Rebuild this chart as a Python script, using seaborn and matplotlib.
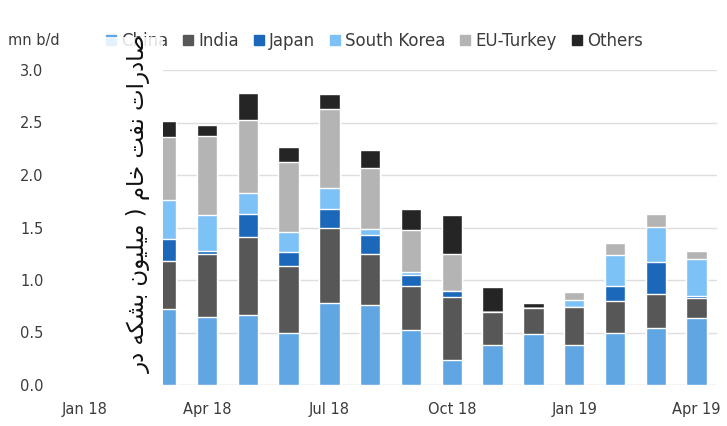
import matplotlib
matplotlib.use("Agg")
import matplotlib.pyplot as plt
from matplotlib.patches import Rectangle
from matplotlib.lines import Line2D
import numpy as np
import pandas as pd
import seaborn as sns

# ---------------- data (mn b/d) ----------------
months = ["Jan 18", "Feb 18", "Mar 18", "Apr 18", "May 18", "Jun 18", "Jul 18", "Aug 18",
          "Sep 18", "Oct 18", "Nov 18", "Dec 18", "Jan 19", "Feb 19", "Mar 19", "Apr 19"]
china       = [np.nan, np.nan, 0.72, 0.65, 0.67, 0.50, 0.78, 0.76, 0.52, 0.24, 0.38, 0.49, 0.38, 0.50, 0.54, 0.64]
india       = [np.nan, np.nan, 0.46, 0.60, 0.74, 0.63, 0.72, 0.49, 0.42, 0.60, 0.32, 0.24, 0.36, 0.30, 0.33, 0.19]
japan       = [np.nan, np.nan, 0.21, 0.03, 0.22, 0.14, 0.18, 0.18, 0.11, 0.06, 0.00, 0.00, 0.00, 0.14, 0.30, 0.02]
south_korea = [np.nan, np.nan, 0.37, 0.34, 0.20, 0.19, 0.20, 0.06, 0.03, 0.00, 0.00, 0.00, 0.07, 0.30, 0.33, 0.35]
eu_turkey   = [np.nan, np.nan, 0.60, 0.75, 0.69, 0.66, 0.75, 0.58, 0.40, 0.35, 0.00, 0.00, 0.08, 0.11, 0.13, 0.08]
others      = [np.nan, np.nan, 0.15, 0.11, 0.26, 0.15, 0.14, 0.17, 0.20, 0.37, 0.23, 0.05, 0.00, 0.00, 0.00, 0.00]

series_names = ["China", "India", "Japan", "South Korea", "EU-Turkey", "Others"]
series_vals = [china, india, japan, south_korea, eu_turkey, others]
series_colors = ["#5fa6e2", "#575757", "#1b68bb", "#7dc2f7", "#b4b4b4", "#252525"]

tick_months = ["Jan 18", "Apr 18", "Jul 18", "Oct 18", "Jan 19", "Apr 19"]
ytick_vals = [0.0, 0.5, 1.0, 1.5, 2.0, 2.5, 3.0]
unit_label = "mn b/d"
ylabel_text = "صادرات نفت خام ( میلیون بشکه در"

# ---------------- minimal Arabic/Persian shaping (matplotlib has no shaping) ----------------
FORMS = {
    "ا": ("\uFE8D", "\uFE8E", None, None),
    "ب": ("\uFE8F", "\uFE90", "\uFE91", "\uFE92"),
    "ت": ("\uFE95", "\uFE96", "\uFE97", "\uFE98"),
    "خ": ("\uFEA5", "\uFEA6", "\uFEA7", "\uFEA8"),
    "د": ("\uFEA9", "\uFEAA", None, None),
    "ر": ("\uFEAD", "\uFEAE", None, None),
    "ش": ("\uFEB5", "\uFEB6", "\uFEB7", "\uFEB8"),
    "ص": ("\uFEB9", "\uFEBA", "\uFEBB", "\uFEBC"),
    "ف": ("\uFED1", "\uFED2", "\uFED3", "\uFED4"),
    "ل": ("\uFEDD", "\uFEDE", "\uFEDF", "\uFEE0"),
    "م": ("\uFEE1", "\uFEE2", "\uFEE3", "\uFEE4"),
    "ن": ("\uFEE5", "\uFEE6", "\uFEE7", "\uFEE8"),
    "ه": ("\uFEE9", "\uFEEA", "\uFEEB", "\uFEEC"),
    "و": ("\uFEED", "\uFEEE", None, None),
    "ی": ("\uFBFC", "\uFBFD", "\uFBFE", "\uFBFF"),
    "ک": ("\uFB8E", "\uFB8F", "\uFB90", "\uFB91"),
}
MIRROR = {"(": ")", ")": "("}


def shape_rtl(s):
    out = []
    for i, ch in enumerate(s):
        if ch not in FORMS:
            out.append(MIRROR.get(ch, ch))
            continue
        prev = s[i - 1] if i > 0 else ""
        nxt = s[i + 1] if i + 1 < len(s) else ""
        jp = prev in FORMS and FORMS[prev][2] is not None
        jn = nxt in FORMS and FORMS[ch][2] is not None
        iso, fin, ini, med = FORMS[ch]
        if jp and jn:
            out.append(med)
        elif jp:
            out.append(fin)
        elif jn:
            out.append(ini)
        else:
            out.append(iso)
    return "".join(reversed(out))


# ---------------- figure ----------------
sns.set_theme(style="white")
plt.rcParams["font.family"] = ["DejaVu Sans"]

W, H = 727, 426
fig = plt.figure(figsize=(W / 100, H / 100), dpi=100)
left_px, right_px, top_px, bot_px = 63, 717, 70, 385
ax = fig.add_axes([left_px / W, 1 - bot_px / H, (right_px - left_px) / W, (bot_px - top_px) / H])

cum = np.zeros(len(months))
cums = []
for vals in series_vals:
    cum = cum + np.array(vals, dtype=float)
    cums.append(cum.copy())

# draw cumulative totals from top series down so the stack shows
for name, c, color in reversed(list(zip(series_names, cums, series_colors))):
    sns.barplot(x=months, y=c, order=months, color=color, width=0.5,
                saturation=1, ax=ax, zorder=2)

ax.set_xlim(-0.53, 15.5)
ax.set_ylim(0, 3.0)
ax.set_yticks(ytick_vals)
ax.set_yticklabels([f"{v:.1f}" for v in ytick_vals])
ax.set_xticks([months.index(m) for m in tick_months])
ax.set_xticklabels(tick_months)
ax.yaxis.grid(True, color="#dedede", lw=1.0, zorder=0)
ax.xaxis.grid(False)
ax.set_axisbelow(True)
for sp in ax.spines.values():
    sp.set_visible(False)
ax.set_xlabel("")
ax.set_ylabel("")
ax.tick_params(axis="both", length=0, labelsize=10.5, colors="#3c3c3c")
ax.tick_params(axis="y", pad=14)
ax.tick_params(axis="x", pad=12)
ax.axhline(0, color="#e6e6e6", lw=1, zorder=1)

# unit label
fig.text(8 / W, 1 - 41 / H, unit_label, fontsize=10.5, color="#3c3c3c", va="center", ha="left")

# legend
handles = [Line2D([], [], marker="s", linestyle="", markersize=7, color=c) for c in series_colors]
leg = fig.legend(handles, series_names, loc="center left", bbox_to_anchor=(106 / W, 1 - 41 / H),
                 ncol=6, frameon=False, fontsize=12, handlelength=0.6, handletextpad=0.3,
                 columnspacing=0.9, borderaxespad=0, borderpad=0, labelcolor="#3c3c3c")

# white panel with the Persian axis title (top strip slightly translucent)
fig.add_artist(Rectangle((63 / W, 1 - 396 / H), 100 / W, (396 - 48) / H,
                         transform=fig.transFigure, facecolor="white", edgecolor="none",
                         zorder=10))
fig.add_artist(Rectangle((63 / W, 1 - 48 / H), 100 / W, 11 / H,
                         transform=fig.transFigure, facecolor="white", edgecolor="none",
                         alpha=0.85, zorder=10))
fig.text(139 / W, 1 - 204 / H, shape_rtl(ylabel_text), rotation=90, fontsize=16.5,
         color="#111111", ha="center", va="center", zorder=11)

fig.savefig("out.png", dpi=100)
